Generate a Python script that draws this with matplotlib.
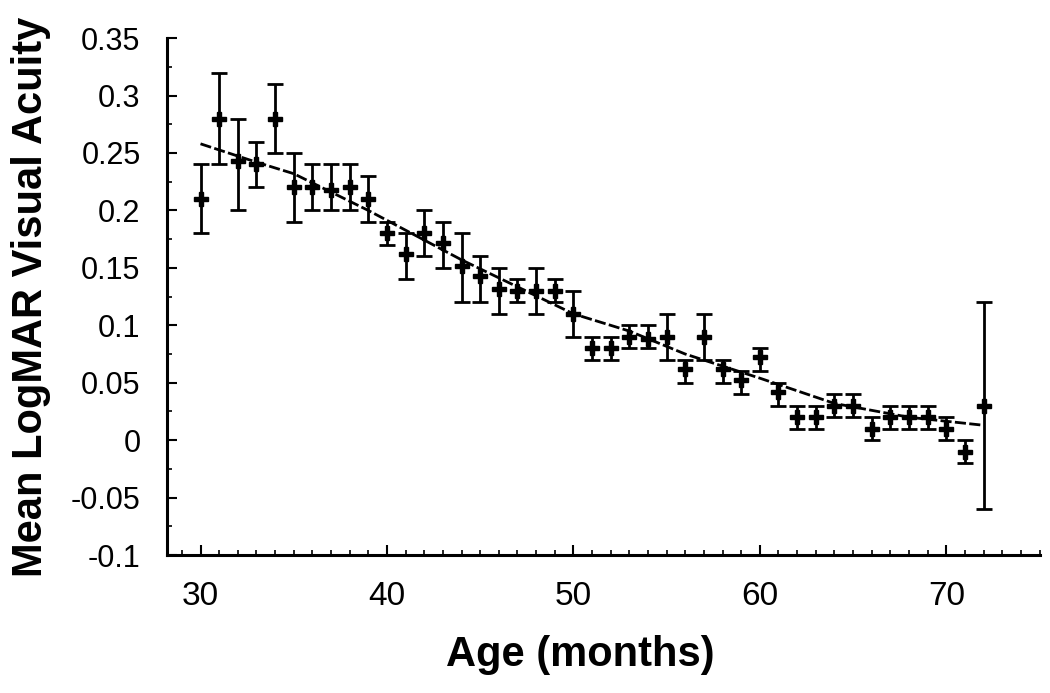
import numpy as np
import matplotlib
matplotlib.use("Agg")
import matplotlib.pyplot as plt
from matplotlib.ticker import MultipleLocator

plt.rcParams['font.family'] = ['Liberation Sans', 'DejaVu Sans']

# mean logMAR per month of age, with error bar ends
age = list(range(30, 73))
mean = [0.21, 0.28, 0.243, 0.24, 0.28, 0.22, 0.22, 0.218, 0.22, 0.21,
        0.18, 0.162, 0.18, 0.172, 0.152, 0.143, 0.132, 0.13, 0.13, 0.13,
        0.11, 0.08, 0.08, 0.09, 0.088, 0.09, 0.062, 0.09, 0.062, 0.052,
        0.072, 0.042, 0.02, 0.02, 0.03, 0.03, 0.01, 0.02, 0.02, 0.02,
        0.01, -0.01, 0.03]
upper = [0.24, 0.32, 0.28, 0.26, 0.31, 0.25, 0.24, 0.24, 0.24, 0.23,
         0.19, 0.18, 0.20, 0.19, 0.18, 0.16, 0.15, 0.14, 0.15, 0.14,
         0.13, 0.09, 0.09, 0.10, 0.10, 0.11, 0.07, 0.11, 0.07, 0.06,
         0.08, 0.05, 0.03, 0.03, 0.04, 0.04, 0.02, 0.03, 0.03, 0.03,
         0.02, 0.0, 0.12]
lower = [0.18, 0.24, 0.20, 0.22, 0.25, 0.19, 0.20, 0.20, 0.20, 0.19,
         0.17, 0.14, 0.16, 0.15, 0.12, 0.12, 0.11, 0.12, 0.11, 0.12,
         0.09, 0.07, 0.07, 0.08, 0.08, 0.07, 0.05, 0.07, 0.05, 0.04,
         0.06, 0.03, 0.01, 0.01, 0.02, 0.02, 0.0, 0.01, 0.01, 0.01,
         0.0, -0.02, -0.06]

# dashed trend line
trend_age = [30, 33, 35, 39, 44, 50, 53, 56, 60, 64, 68, 72]
trend_val = [0.258, 0.242, 0.232, 0.20, 0.157, 0.11, 0.095, 0.075, 0.054, 0.032, 0.020, 0.013]

mean = np.array(mean)
yerr = [mean - np.array(lower), np.array(upper) - mean]

fig = plt.figure(figsize=(10.5, 6.93), dpi=100)
ax = fig.add_axes([0.159, 0.199, 0.831, 0.746])

ax.errorbar(age, mean, yerr=yerr, fmt='P', color='black', ms=10,
            elinewidth=2, capsize=6, capthick=2, zorder=3)
ax.plot(trend_age, trend_val, color='black', lw=2, dashes=(4, 1.2), zorder=4)

ax.set_xlim(28.2, 75)
ax.set_ylim(-0.1, 0.35)
ax.set_xticks([30, 40, 50, 60, 70])
ax.set_yticks([-0.1, -0.05, 0, 0.05, 0.1, 0.15, 0.2, 0.25, 0.3, 0.35])
ax.set_yticklabels(['-0.1', '-0.05', '0', '0.05', '0.1', '0.15', '0.2', '0.25', '0.3', '0.35'])
ax.xaxis.set_minor_locator(MultipleLocator(1))
ax.yaxis.set_minor_locator(MultipleLocator(0.025))

for s in ['top', 'right']:
    ax.spines[s].set_visible(False)
for s in ['left', 'bottom']:
    ax.spines[s].set_linewidth(2.2)

ax.tick_params(axis='both', which='major', direction='in', length=7, width=1.5)
ax.tick_params(axis='both', which='minor', direction='in', length=3.5, width=1.2)
ax.tick_params(axis='x', which='major', labelsize=24, pad=19)
ax.tick_params(axis='y', which='major', labelsize=22, pad=19)

ax.set_xlabel('Age (months)', fontsize=30, fontweight='bold')
ax.xaxis.set_label_coords(0.474, -0.155)
ax.set_ylabel('Mean LogMAR Visual Acuity', fontsize=30, fontweight='bold')
ax.yaxis.set_label_coords(-0.133, 0.5)

fig.savefig('out.png', dpi=100)
